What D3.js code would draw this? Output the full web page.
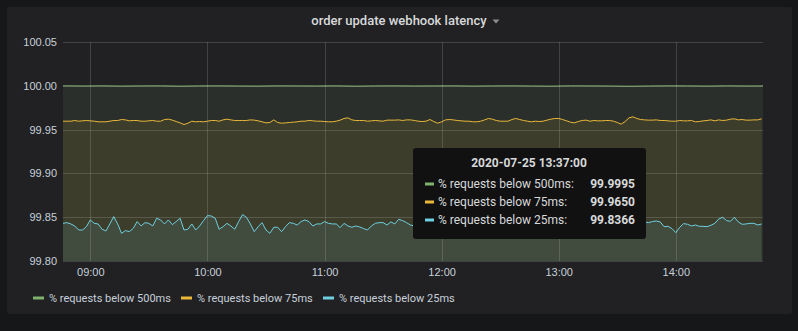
<!DOCTYPE html>
<html>
<head>
<meta charset="utf-8">
<script src="https://cdn.jsdelivr.net/npm/d3@7"></script>
<style>
body { margin: 0; background: #161719; }
svg { display: block; font-family: Roboto, "Noto Sans", sans-serif; }
.axis text { fill: #c7d0d9; font-size: 11px; }
.axis .domain, .axis line { display: none; }
</style>
</head>
<body>
<div id="chart"></div>
<script>

var width = 798,
    height = 331;

// time range of the panel
var startTime = new Date(2020, 6, 25, 8, 46),
    endTime = new Date(2020, 6, 25, 14, 44, 40);

// step (minutes) between samples of each series
var stepMinutes = 2,
    greenStepMinutes = 10;

var seriesNames = ["% requests below 500ms", "% requests below 75ms", "% requests below 25ms"];
var seriesColors = ["#7eb26d", "#eab839", "#6ed0e0"];

var yTicks = [99.80, 99.85, 99.90, 99.95, 100.00, 100.05];

// % requests below 500ms, every 10 min
var below500 = [100.0000, 99.9998, 100.0000, 99.9997, 99.9999, 100.0000, 99.9996, 99.9999, 100.0000, 99.9998,
  99.9997, 100.0000, 99.9999, 99.9998, 100.0000, 99.9996, 99.9999, 100.0000, 99.9998, 99.9999,
  100.0000, 99.9997, 99.9999, 100.0000, 99.9998, 99.9996, 100.0000, 99.9999, 99.9998, 99.9995,
  99.9998, 100.0000, 99.9999, 99.9997, 100.0000, 99.9998, 99.9999];

// % requests below 75ms, every 2 min
var below75 = [99.9596, 99.9596, 99.9596, 99.9604, 99.9596, 99.9600, 99.9604, 99.9600, 99.9596, 99.9589,
  99.9589, 99.9589, 99.9596, 99.9604, 99.9604, 99.9615, 99.9611, 99.9600, 99.9604, 99.9604,
  99.9596, 99.9596, 99.9600, 99.9604, 99.9596, 99.9596, 99.9615, 99.9619, 99.9608, 99.9592,
  99.9577, 99.9558, 99.9573, 99.9596, 99.9589, 99.9592, 99.9589, 99.9596, 99.9604, 99.9604,
  99.9596, 99.9611, 99.9619, 99.9611, 99.9604, 99.9604, 99.9604, 99.9604, 99.9611, 99.9608,
  99.9600, 99.9589, 99.9577, 99.9581, 99.9611, 99.9581, 99.9573, 99.9577, 99.9581, 99.9585,
  99.9589, 99.9596,
  99.9596, 99.9604, 99.9600, 99.9596, 99.9596, 99.9592, 99.9589, 99.9589, 99.9596, 99.9608,
  99.9627, 99.9634, 99.9611, 99.9604, 99.9604, 99.9604, 99.9596, 99.9600, 99.9604, 99.9600,
  99.9596, 99.9608, 99.9608, 99.9608, 99.9611, 99.9604, 99.9611, 99.9611, 99.9604, 99.9596,
  99.9592, 99.9596, 99.9615, 99.9592, 99.9573, 99.9589, 99.9611, 99.9615, 99.9611, 99.9604,
  99.9600, 99.9596, 99.9596, 99.9589, 99.9589, 99.9596, 99.9611, 99.9627, 99.9619, 99.9604,
  99.9596, 99.9596, 99.9596, 99.9615, 99.9627, 99.9615, 99.9604, 99.9596, 99.9589, 99.9596,
  99.9592, 99.9596, 99.9608, 99.9619, 99.9627, 99.9627, 99.9615, 99.9600, 99.9585, 99.9577,
  99.9592, 99.9604, 99.9608, 99.9596, 99.9604, 99.9600, 99.9600, 99.9604, 99.9604, 99.9596,
  99.9581, 99.9562, 99.9592, 99.9634, 99.9646, 99.9627, 99.9615, 99.9611, 99.9608, 99.9608,
  99.9611, 99.9604, 99.9604, 99.9600, 99.9596, 99.9596, 99.9604, 99.9600, 99.9600, 99.9604,
  99.9589, 99.9592, 99.9600, 99.9604, 99.9611, 99.9600, 99.9611, 99.9604, 99.9608, 99.9619,
  99.9623, 99.9611, 99.9615, 99.9608, 99.9608, 99.9611, 99.9611, 99.9623];

// % requests below 25ms, every 2 min
var below25 = [99.8430, 99.8438, 99.8423, 99.8400, 99.8354, 99.8354, 99.8392, 99.8469, 99.8430, 99.8423,
  99.8362, 99.8343, 99.8423, 99.8507, 99.8423, 99.8316, 99.8347, 99.8335, 99.8373, 99.8450,
  99.8400, 99.8438, 99.8430, 99.8400, 99.8488, 99.8469, 99.8423, 99.8469, 99.8415, 99.8450,
  99.8488, 99.8354, 99.8362, 99.8423, 99.8354, 99.8400, 99.8461, 99.8518, 99.8514, 99.8488,
  99.8362, 99.8392, 99.8430, 99.8400, 99.8362, 99.8450, 99.8530, 99.8499, 99.8423, 99.8335,
  99.8392, 99.8438, 99.8354, 99.8316, 99.8385, 99.8385, 99.8335, 99.8392, 99.8438, 99.8430,
  99.8411, 99.8450,
  99.8469, 99.8450, 99.8400, 99.8423, 99.8423, 99.8450, 99.8430, 99.8423, 99.8423, 99.8381,
  99.8430, 99.8400, 99.8385, 99.8400, 99.8389, 99.8370, 99.8354, 99.8400, 99.8430, 99.8438,
  99.8438, 99.8411, 99.8446, 99.8423, 99.8476, 99.8461, 99.8438, 99.8411, 99.8400,
  // hidden behind the tooltip in the picture
  99.8415, 99.8430, 99.8400, 99.8385, 99.8423, 99.8450, 99.8430, 99.8400, 99.8392, 99.8438,
  99.8461, 99.8430, 99.8392, 99.8370, 99.8400, 99.8430, 99.8445, 99.8423, 99.8400, 99.8415,
  99.8450, 99.8469, 99.8438, 99.8400, 99.8380, 99.8410, 99.8430, 99.8445, 99.8420, 99.8395,
  99.8405, 99.8440, 99.8460, 99.8430, 99.8400, 99.8385, 99.8415, 99.8435, 99.8420, 99.8395,
  99.8410, 99.8440, 99.8455, 99.8425, 99.8400, 99.8380, 99.8405, 99.8430, 99.8415, 99.8390,
  99.8375, 99.8395, 99.8420, 99.8380, 99.8366, 99.8366, 99.8390, 99.8425, 99.8445,
  99.8438, 99.8450, 99.8457, 99.8446, 99.8392, 99.8396, 99.8370, 99.8324, 99.8385, 99.8427,
  99.8419, 99.8400, 99.8411, 99.8396, 99.8396, 99.8392, 99.8408, 99.8430, 99.8480, 99.8499,
  99.8461, 99.8453, 99.8499, 99.8446, 99.8419, 99.8423, 99.8430, 99.8430, 99.8411, 99.8423];

// hover tooltip contents
var tooltipTime = "2020-07-25 13:37:00";
var tooltipValues = ["99.9995", "99.9650", "99.8366"];

function toPoints(values, step) {
  return values.map(function(v, i) {
    return {t: d3.timeMinute.offset(startTime, i * step), v: v};
  });
}

var series = [
  toPoints(below500, greenStepMinutes),
  toPoints(below75, stepMinutes),
  toPoints(below25, stepMinutes)
];

var plot = {left: 63, right: 763, top: 42, bottom: 261};

var x = d3.scaleTime()
  .domain([startTime, endTime])
  .range([plot.left, plot.right]);

var y = d3.scaleLinear()
  .domain([99.80, 100.05])
  .range([plot.bottom, plot.top]);

var svg = d3.select("#chart").append("svg")
  .attr("width", width)
  .attr("height", height);

// panel
svg.append("rect")
  .attr("x", 7).attr("y", 7)
  .attr("width", 785).attr("height", 307)
  .attr("rx", 2)
  .attr("fill", "#212124");

svg.append("text")
  .attr("x", 399)
  .attr("y", 25)
  .attr("text-anchor", "middle")
  .attr("fill", "#d8d9da")
  .attr("font-size", 13)
  .attr("font-weight", 500)
  .text("order update webhook latency");

svg.append("path")
  .attr("d", "M492.5,19.5 L499.5,19.5 L496,23.5 Z")
  .attr("fill", "#8e8e8e");

svg.append("clipPath").attr("id", "clip")
  .append("rect")
  .attr("x", plot.left).attr("y", plot.top)
  .attr("width", plot.right - plot.left)
  .attr("height", plot.bottom - plot.top);

var area = d3.area()
  .x(function(d) { return x(d.t); })
  .y0(plot.bottom)
  .y1(function(d) { return y(d.v); });

var line = d3.line()
  .x(function(d) { return x(d.t); })
  .y(function(d) { return y(d.v); });

var g = svg.append("g").attr("clip-path", "url(#clip)");

g.selectAll(".area")
  .data(series)
  .enter().append("path")
  .attr("class", "area")
  .attr("d", area)
  .attr("fill", function(d, i) { return seriesColors[i]; })
  .attr("fill-opacity", 0.1);

// grid
svg.append("g")
  .selectAll("line")
  .data(yTicks)
  .enter().append("line")
  .attr("x1", plot.left).attr("x2", plot.right)
  .attr("y1", function(d) { return Math.round(y(d)) + 0.5; })
  .attr("y2", function(d) { return Math.round(y(d)) + 0.5; })
  .attr("stroke", "rgba(255,255,255,0.15)");

svg.append("g")
  .selectAll("line")
  .data(x.ticks(d3.timeHour.every(1)))
  .enter().append("line")
  .attr("x1", function(d) { return Math.round(x(d)) + 0.5; })
  .attr("x2", function(d) { return Math.round(x(d)) + 0.5; })
  .attr("y1", plot.top).attr("y2", plot.bottom)
  .attr("stroke", "rgba(255,255,255,0.15)");

g.selectAll(".line")
  .data(series)
  .enter().append("path")
  .attr("class", "line")
  .attr("d", line)
  .attr("fill", "none")
  .attr("stroke", function(d, i) { return seriesColors[i]; })
  .attr("stroke-width", 1);

// axes
svg.append("g")
  .attr("class", "axis")
  .attr("transform", "translate(" + (plot.left - 6) + ",0)")
  .call(d3.axisLeft(y).tickValues(yTicks).tickFormat(d3.format(".2f")).tickSize(0).tickPadding(0));

svg.append("g")
  .attr("class", "axis")
  .attr("transform", "translate(0," + (plot.bottom + 7) + ")")
  .call(d3.axisBottom(x).ticks(d3.timeHour.every(1)).tickFormat(d3.timeFormat("%H:%M")).tickSize(0).tickPadding(0));

// legend
var legendX = [33, 181, 323];
var legend = svg.append("g")
  .selectAll("g")
  .data(seriesNames)
  .enter().append("g")
  .attr("transform", function(d, i) { return "translate(" + legendX[i] + ",298)"; });

legend.append("rect")
  .attr("x", 0).attr("y", -1.5)
  .attr("width", 11).attr("height", 3)
  .attr("fill", function(d, i) { return seriesColors[i]; });

legend.append("text")
  .attr("x", 16)
  .attr("dy", "0.35em")
  .attr("fill", "#c7d0d9")
  .attr("font-size", 11)
  .text(function(d) { return d; });

// tooltip
var tip = svg.append("g");

tip.append("rect")
  .attr("x", 413).attr("y", 148)
  .attr("width", 233).attr("height", 91)
  .attr("rx", 3)
  .attr("fill", "#111112");

tip.append("text")
  .attr("x", 529).attr("y", 163)
  .attr("dy", "0.35em")
  .attr("text-anchor", "middle")
  .attr("fill", "#d8d9da")
  .attr("font-size", 12)
  .attr("font-weight", 700)
  .text(tooltipTime);

var rows = tip.selectAll(".row")
  .data(seriesNames)
  .enter().append("g")
  .attr("class", "row")
  .attr("transform", function(d, i) { return "translate(0," + (184 + i * 18) + ")"; });

rows.append("rect")
  .attr("x", 425).attr("y", -1.5)
  .attr("width", 9).attr("height", 3)
  .attr("fill", function(d, i) { return seriesColors[i]; });

rows.append("text")
  .attr("x", 438)
  .attr("dy", "0.35em")
  .attr("fill", "#d8d9da")
  .attr("font-size", 12)
  .text(function(d) { return d + ":"; });

rows.append("text")
  .attr("x", 635)
  .attr("dy", "0.35em")
  .attr("text-anchor", "end")
  .attr("fill", "#d8d9da")
  .attr("font-size", 12)
  .attr("font-weight", 700)
  .text(function(d, i) { return tooltipValues[i]; });

</script>
</body>
</html>
